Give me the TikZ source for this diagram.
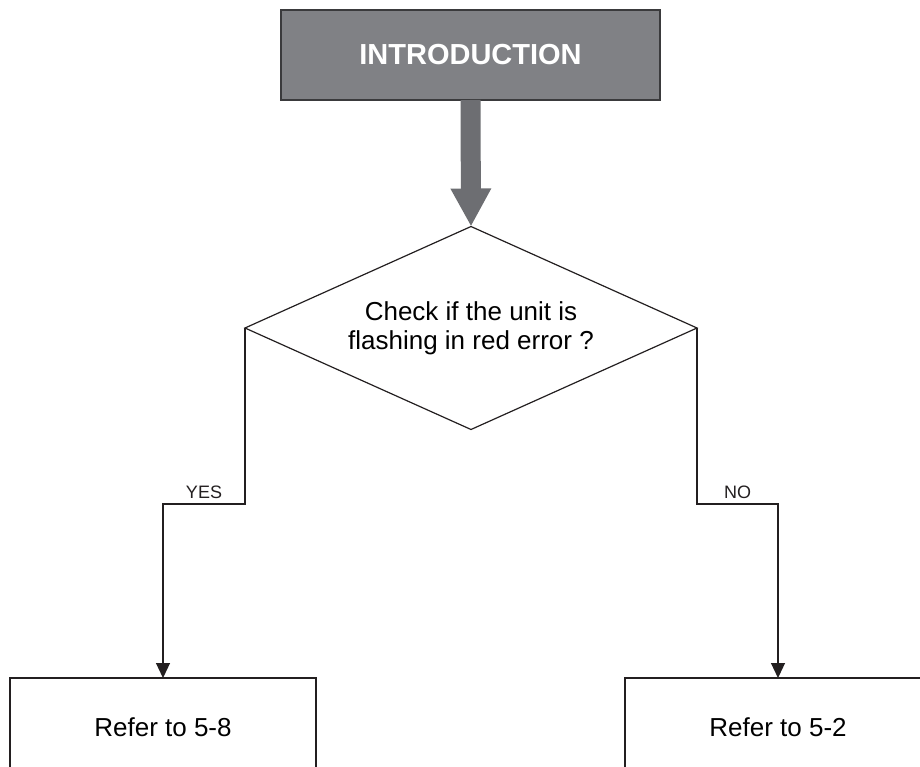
\documentclass[tikz,border=0pt]{standalone}
\usepackage{fontspec}
\setmainfont{Liberation Sans}
\usepackage{tikz}
\usetikzlibrary{shapes.geometric}
\usetikzlibrary{arrows.meta}
\definecolor{introgray}{RGB}{128,129,133}
\definecolor{introedge}{RGB}{58,58,60}
\definecolor{shaftgray}{RGB}{109,110,114}
\definecolor{inkline}{RGB}{35,31,32}
\newcommand{\flowlw}{1.2pt}
\tikzset{introbox/.style={rectangle, draw=introedge, line width=1.6pt, fill=introgray, text=white, font=\fontsize{29}{33}\selectfont\bfseries, minimum width=379pt, minimum height=90pt, inner sep=0pt, outer sep=0pt}}
\tikzset{decide/.style={diamond, draw=inkline, line width=\flowlw, aspect=2.227, minimum width=452pt, minimum height=203pt, inner sep=0pt, outer sep=0pt, align=center, font=\fontsize{26}{29}\selectfont}}
\tikzset{flowbox/.style={rectangle, draw=inkline, line width=\flowlw, minimum width=306pt, minimum height=98pt, inner sep=0pt, outer sep=0pt, font=\fontsize{26}{30}\selectfont}}
\tikzset{flowline/.style={draw=inkline, line width=\flowlw, -{Triangle[length=15pt,width=14pt]}}}
\tikzset{bigarrow/.style={draw=shaftgray, line width=20pt, -{Triangle[length=38pt,width=38pt]}}}
\tikzset{branchlbl/.style={font=\fontsize{18}{20}\selectfont, text=inkline, inner sep=5pt}}
\begin{document}
\begin{tikzpicture}[x=1pt,y=-1pt]

\clip (0,0) rectangle (920,767);

\node[introbox] (intro) at (470.5,55) {INTRODUCTION};
\node[decide] (chk) at (471,328) {Check if the unit is\\flashing in red error ?};
\node[flowbox] (ref58) at (163,727) {Refer to 5-8};
\node[flowbox] (ref52) at (778,727) {Refer to 5-2};

\draw[bigarrow] (intro.south) -- (chk.north);

\draw[flowline] (chk.west) -- ++(0,176) -| node[branchlbl, pos=0.25, above] {YES} (ref58.north);
\draw[flowline] (chk.east) -- ++(0,176) -| node[branchlbl, pos=0.25, above] {NO} (ref52.north);

\end{tikzpicture}
\end{document}
